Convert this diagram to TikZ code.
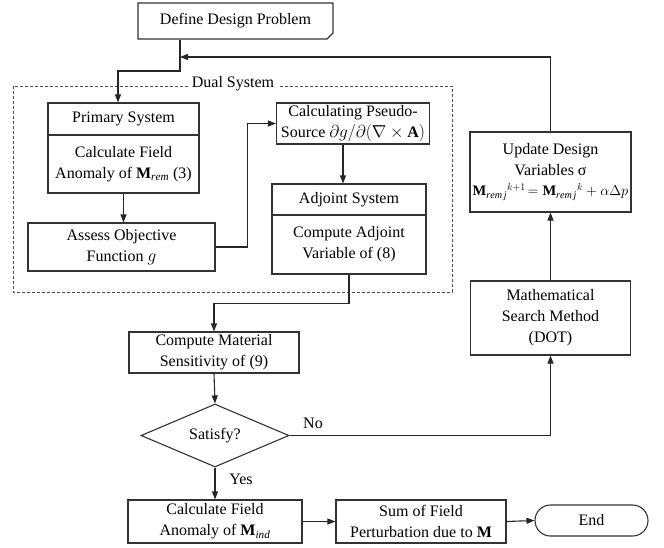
\documentclass[tikz,border=0pt]{standalone}
\usepackage{fontspec}
\setmainfont{Liberation Serif}
\usetikzlibrary{arrows.meta,shapes.geometric,shapes.misc}
\begin{document}
\begin{tikzpicture}[x=1pt,y=-1pt,
  font=\rmfamily\fontsize{16}{21}\selectfont,
  box/.style={draw=black!80,line width=1.1pt,rectangle,inner sep=0pt,align=center},
  conn/.style={draw=black!85,line width=1.1pt},
  arr/.style={conn,-{Triangle[length=8pt,width=6pt]}},
  frame/.style={draw=black!70,line width=0.9pt,dash pattern=on 3pt off 2pt},
  lbl/.style={inner sep=1pt},
]
\useasboundingbox[fill=white] (0,0) rectangle (664,547);

% dashed dual-system frame
\draw[frame] (13,86) rectangle (452,292);
\node[fill=white,inner xsep=4pt,inner ysep=1pt] (dual) at (233,84) {Dual System};

\node[box,chamfered rectangle,chamfered rectangle corners=south east,
      chamfered rectangle xsep=3pt,chamfered rectangle ysep=3pt,
      minimum width=195pt,minimum height=36pt] (define) at (235.5,21) {Define Design Problem};

\node[box,minimum width=151pt,minimum height=32pt] (primh) at (123.5,119) {Primary System};
\node[box,minimum width=151pt,minimum height=58pt] (primb) at (123.5,164) {Calculate Field\\Anomaly of $\mathbf{M}_{\mathit{rem}}$ (3)};

\node[box,minimum width=187pt,minimum height=48pt] (assess) at (121.5,247) {Assess Objective\\Function $g$};

\node[box,minimum width=153pt,minimum height=41pt] (pseudo) at (353,123.5) {Calculating Pseudo-\\Source $\partial g/\partial(\nabla\times\mathbf{A})$};

\node[box,minimum width=154pt,minimum height=31pt] (adjh) at (349,199.5) {Adjoint System};
\node[box,minimum width=154pt,minimum height=59pt] (adjb) at (349,244.5) {Compute Adjoint\\Variable of (8)};

\node[box,minimum width=170pt,minimum height=41pt] (material) at (214,352.5) {Compute Material\\Sensitivity of (9)};

\node[draw=black!80,line width=1.1pt,diamond,aspect=2.35,inner sep=0pt,
      minimum width=148pt,minimum height=63pt] (satisfy) at (215,435.5) {Satisfy?};

\node[box,minimum width=174pt,minimum height=43pt] (calc) at (215,521.5) {Calculate Field\\Anomaly of $\mathbf{M}_{\mathit{ind}}$};
\node[box,minimum width=170pt,minimum height=43pt] (sum) at (421,521.5) {Sum of Field\\Perturbation due to $\mathbf{M}$};
\node[draw=black!80,line width=1.1pt,rounded rectangle,inner sep=0pt,
      minimum width=113pt,minimum height=31pt] (end) at (591.5,520.5) {End};

\node[box,minimum width=161pt,minimum height=80pt] (update) at (550.5,172)
  {Update Design\\Variables σ\\[-1pt]{\fontsize{14.5}{18}\selectfont$\mathbf{M}_{\mathit{rem\,j}}{}^{k+1}\!=\mathbf{M}_{\mathit{rem\,j}}{}^{k}+\alpha\Delta p$}};
\node[box,minimum width=160pt,minimum height=74pt] (math) at (550.5,318) {Mathematical\\Search Method\\(DOT)};

% connectors
\coordinate (j1) at (180,57);
\coordinate (b1) at (118,71);
\draw[conn] (define.south -| j1) -- (j1);
\draw[arr] (j1) -- (j1 |- b1) -- (b1) -- (b1 |- primh.north);
\draw[arr] (update.north) -- (update.north |- j1) -- (j1);
\draw[arr] (primb.south) -- (primb.south |- assess.north);
\draw[arr] (assess.east) -- ++(32,0) |- (pseudo.west);
\draw[arr] ([xshift=-10pt]pseudo.south) -- ([xshift=-10pt]pseudo.south |- adjh.north);
\draw[arr] (adjb.south) -- ++(0,29) -| (material.north);
\draw[arr] (material.south) -- (satisfy.north);
\draw[arr] (satisfy.east) -| (math.south);
\node[lbl] (no) at (313,423) {No};
\draw[arr] (math.north) -- (update.south);
\draw[arr] (satisfy.south) -- (calc.north);
\node[lbl] (yes) at (241,479) {Yes};
\draw[arr] (calc.east) -- (sum.west);
\draw[arr] (sum.east) -- (end.west);
\end{tikzpicture}
\end{document}
